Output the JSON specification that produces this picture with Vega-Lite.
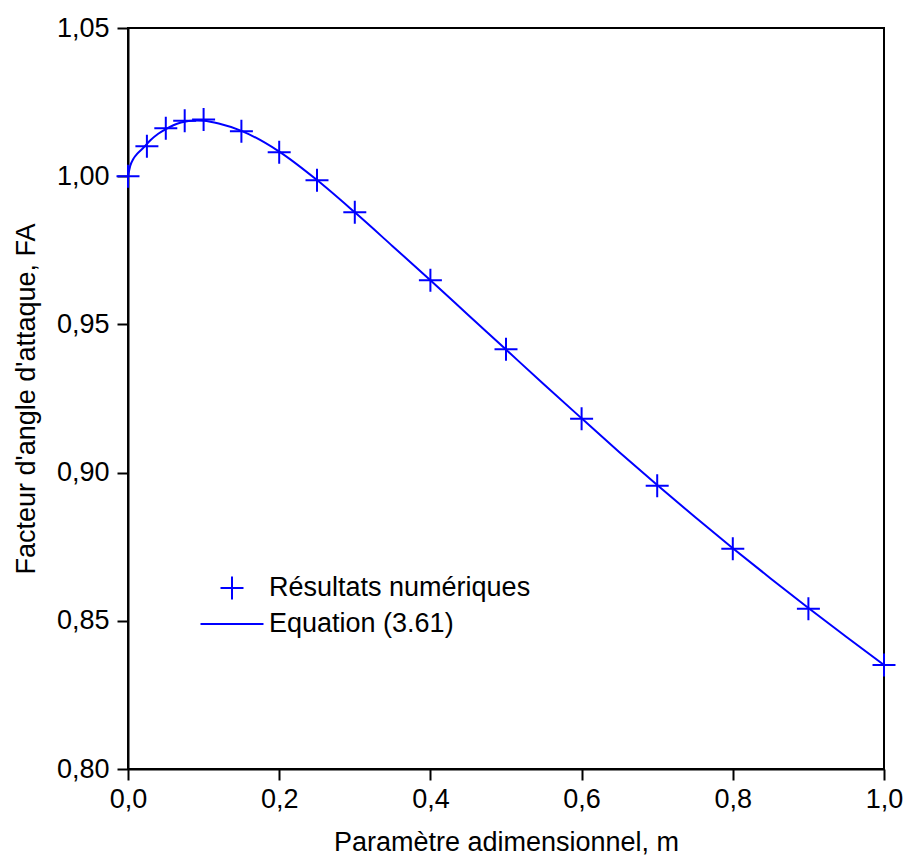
{
  "$schema": "https://vega.github.io/schema/vega-lite/v6.json",
  "autosize": {"type": "none"},
  "width": 756,
  "height": 741,
  "padding": {"left": 128, "top": 28, "right": 20, "bottom": 90},
  "background": "white",
  "config": {
    "font": "Liberation Sans",
    "view": {"stroke": "black", "strokeWidth": 2},
    "axis": {"grid": false, "domainColor": "black", "domainWidth": 2, "tickColor": "black", "tickWidth": 2, "tickSize": 11, "labelFont": "Liberation Sans", "labelFontSize": 27, "labelColor": "black", "labelFlush": false, "titleFont": "Liberation Sans", "titleFontSize": 27, "titleFontWeight": "normal", "titleColor": "black", "labelPadding": 8}
  },
  "datasets": {
    "pts": [
      {"m": 0.0, "F": 1.0},
      {"m": 0.025, "F": 1.0101},
      {"m": 0.05, "F": 1.0162},
      {"m": 0.075, "F": 1.0187},
      {"m": 0.1, "F": 1.0191},
      {"m": 0.15, "F": 1.0152},
      {"m": 0.2, "F": 1.0081},
      {"m": 0.25, "F": 0.9986},
      {"m": 0.3, "F": 0.9878},
      {"m": 0.4, "F": 0.9649},
      {"m": 0.5, "F": 0.9416},
      {"m": 0.6, "F": 0.9182},
      {"m": 0.7, "F": 0.8956},
      {"m": 0.8, "F": 0.8743},
      {"m": 0.9, "F": 0.8541},
      {"m": 1.0, "F": 0.8351}
    ],
    "eq": [
      {"m": 0.0, "F": 1.0},
      {"m": 0.003, "F": 1.0035},
      {"m": 0.007, "F": 1.0058},
      {"m": 0.012, "F": 1.0075},
      {"m": 0.02, "F": 1.0095},
      {"m": 0.03, "F": 1.0122},
      {"m": 0.04, "F": 1.0143},
      {"m": 0.05, "F": 1.0159},
      {"m": 0.06, "F": 1.0172},
      {"m": 0.07, "F": 1.0181},
      {"m": 0.08, "F": 1.0186},
      {"m": 0.09, "F": 1.0188},
      {"m": 0.1, "F": 1.0187},
      {"m": 0.12, "F": 1.0178},
      {"m": 0.15, "F": 1.0153},
      {"m": 0.2, "F": 1.0083},
      {"m": 0.25, "F": 0.9987},
      {"m": 0.3, "F": 0.9878},
      {"m": 0.35, "F": 0.9764},
      {"m": 0.4, "F": 0.9649},
      {"m": 0.45, "F": 0.9532},
      {"m": 0.5, "F": 0.9415},
      {"m": 0.55, "F": 0.9298},
      {"m": 0.6, "F": 0.9183},
      {"m": 0.65, "F": 0.9069},
      {"m": 0.7, "F": 0.8958},
      {"m": 0.75, "F": 0.885},
      {"m": 0.8, "F": 0.8745},
      {"m": 0.85, "F": 0.8643},
      {"m": 0.9, "F": 0.8543},
      {"m": 0.95, "F": 0.8446},
      {"m": 1.0, "F": 0.8351}
    ]
  },
  "layer": [
    {
      "data": {"name": "eq"},
      "mark": {"type": "line", "color": "#0000FF", "strokeWidth": 2, "interpolate": "monotone", "clip": true},
      "encoding": {
        "x": {"field": "m", "type": "quantitative", "scale": {"domain": [0, 1], "nice": false, "zero": false},
          "axis": {"values": [0, 0.2, 0.4, 0.6, 0.8, 1.0], "labelExpr": "replace(format(datum.value, '.1f'), '.', ',')", "title": "Paramètre adimensionnel, m", "titlePadding": 17, "labelPadding": 6}},
        "y": {"field": "F", "type": "quantitative", "scale": {"domain": [0.8, 1.05], "nice": false, "zero": false},
          "axis": {"values": [0.8, 0.85, 0.9, 0.95, 1.0, 1.05], "labelExpr": "replace(format(datum.value, '.2f'), '.', ',')", "title": "Facteur d'angle d'attaque, FA", "titlePadding": 16}}
      }
    },
    {
      "data": {"name": "pts"},
      "transform": [{"calculate": "'Résultats numériques'", "as": "serie"}],
      "mark": {"type": "point", "filled": false, "stroke": "#0000FF", "strokeWidth": 2, "size": 992, "opacity": 1},
      "encoding": {
        "x": {"field": "m", "type": "quantitative"},
        "y": {"field": "F", "type": "quantitative"},
        "shape": {"field": "serie", "type": "nominal",
          "scale": {"domain": ["Résultats numériques", "Equation (3.61)"], "range": ["M-0.73,0H0.73M0,-0.73V0.73", "M-2,0H2"]},
          "legend": {"title": null, "orient": "none", "legendX": 87, "legendY": 543, "padding": 0, "labelFontSize": 27, "labelFont": "Liberation Sans", "labelColor": "black", "labelOffset": 20, "labelLimit": 0, "symbolSize": 992, "symbolStrokeColor": "#0000FF", "symbolStrokeWidth": 2, "symbolFillColor": "transparent", "rowPadding": 3}
        }
      }
    }
  ]
}
